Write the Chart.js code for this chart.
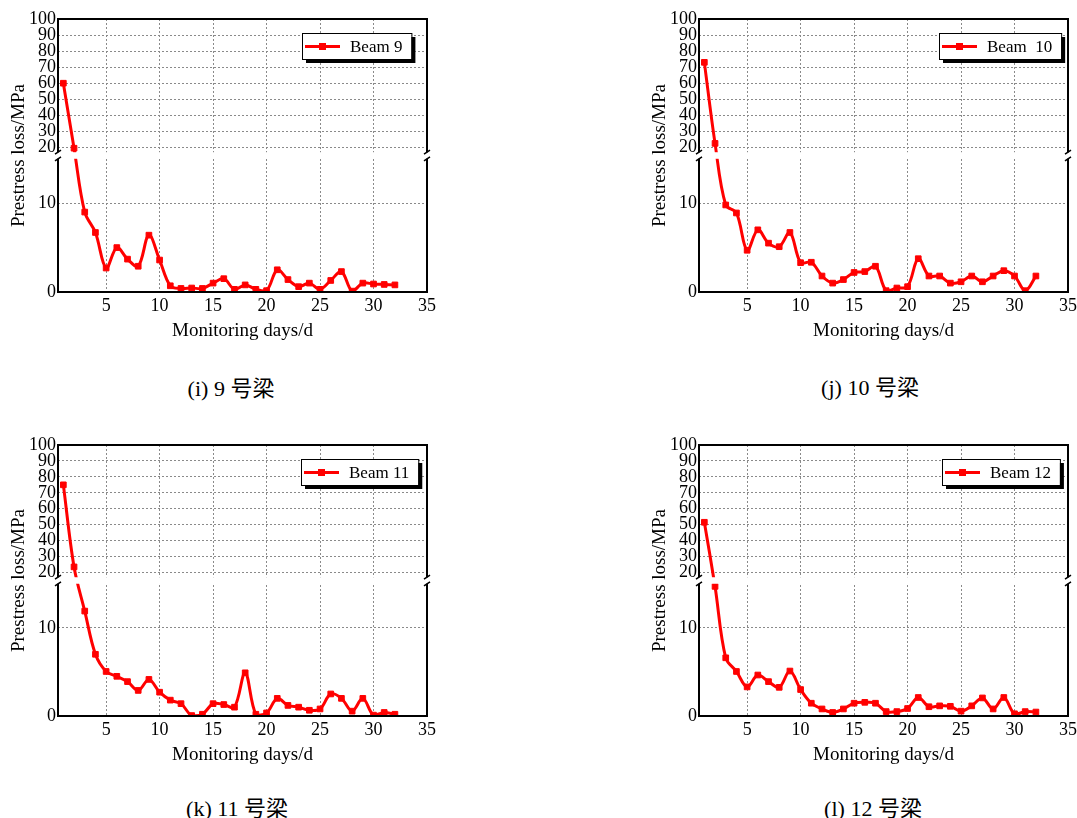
<!DOCTYPE html>
<html><head><meta charset="utf-8">
<script src="https://cdn.jsdelivr.net/npm/chart.js@4.4.0/dist/chart.umd.min.js"></script>
<style>
html,body{margin:0;padding:0;background:#fff;}
body{width:1077px;height:818px;overflow:hidden;position:relative;}
canvas{position:absolute;}
.cap{position:absolute;font-family:"Liberation Serif","Noto Sans CJK SC",serif;font-size:22px;color:#000;white-space:nowrap;transform:translate(-50%,-50%);}
</style></head><body>
<canvas id="c1" width="440" height="345" style="left:0px;top:0px"></canvas>
<canvas id="c2" width="440" height="345" style="left:641px;top:0px"></canvas>
<canvas id="c3" width="440" height="343" style="left:0px;top:426px"></canvas>
<canvas id="c4" width="440" height="343" style="left:641px;top:426px"></canvas>
<div class="cap" style="left:231px;top:386px">(i) 9 号梁</div>
<div class="cap" style="left:870px;top:385px">(j) 10 号梁</div>
<div class="cap" style="left:237px;top:806px">(k) 11 号梁</div>
<div class="cap" style="left:873px;top:806px">(l) 12 号梁</div>
<script>
const days = [1,2,3,4,5,6,7,8,9,10,11,12,13,14,15,16,17,18,19,20,21,22,23,24,25,26,27,28,29,30,31,32];
const beam9  = [60,19.5,9.0,6.7,2.7,5.0,3.7,2.9,6.4,3.6,0.7,0.4,0.45,0.4,1.0,1.5,0.3,0.8,0.3,0.15,2.5,1.4,0.6,1.0,0.3,1.3,2.3,0.1,1.0,0.9,0.85,0.8];
const beam10 = [73,22.5,9.8,8.9,4.7,7.0,5.5,5.1,6.7,3.3,3.35,1.8,1.0,1.4,2.2,2.3,2.9,0.15,0.45,0.6,3.75,1.8,1.8,1.0,1.15,1.8,1.15,1.8,2.4,1.8,0.15,1.8];
const beam11 = [75,23.5,11.9,7.0,5.05,4.5,3.9,2.9,4.15,2.7,1.8,1.4,0.05,0.2,1.4,1.3,1.0,4.9,0.2,0.35,2.0,1.2,1.0,0.65,0.8,2.5,2.0,0.55,2.0,0.1,0.4,0.2];
const beam12 = [51.5,14.7,6.6,5.05,3.3,4.65,3.9,3.25,5.1,3.0,1.45,0.8,0.4,0.8,1.45,1.55,1.45,0.5,0.5,0.85,2.1,1.05,1.15,1.1,0.55,1.15,2.05,0.8,2.1,0.25,0.5,0.45];
const seriesLabels = ['Beam 9','Beam  10','Beam 11','Beam 12'];
const xTicks = [5,10,15,20,25,30,35];
const yTicks = [0,10,20,30,40,50,60,70,80,90,100];
const xTitle = 'Monitoring days/d';
const yTitle = 'Prestress loss/MPa';

// axis break definition: lower segment 0..15, upper segment 17..100
const BRK = {lowMax:15, lowFrac:0.488, upMin:17, upFrac:0.512};

class BrokenLinear extends Chart.LinearScale {
  getPixelForValue(v) {
    let f;
    if (v <= BRK.lowMax) f = (v - this.min) / (BRK.lowMax - this.min) * BRK.lowFrac;
    else if (v >= BRK.upMin) f = BRK.upFrac + (v - BRK.upMin) / (this.max - BRK.upMin) * (1 - BRK.upFrac);
    else f = BRK.lowFrac + (v - BRK.lowMax) / (BRK.upMin - BRK.lowMax) * (BRK.upFrac - BRK.lowFrac);
    return this.getPixelForDecimal(f);
  }
  getValueForPixel(p) {
    const f = this.getDecimalForPixel(p);
    if (f <= BRK.lowFrac) return this.min + f / BRK.lowFrac * (BRK.lowMax - this.min);
    if (f >= BRK.upFrac) return BRK.upMin + (f - BRK.upFrac) / (1 - BRK.upFrac) * (this.max - BRK.upMin);
    return BRK.lowMax + (f - BRK.lowFrac) / (BRK.upFrac - BRK.lowFrac) * (BRK.upMin - BRK.lowMax);
  }
}
BrokenLinear.id = 'brokenLinear';
BrokenLinear.defaults = {};
Chart.register(BrokenLinear);

const FONT = '"Liberation Serif", "Times New Roman", serif';

const framePlugin = {
  id: 'frame',
  afterDatasetsDraw(chart) {
    const {ctx, chartArea: a} = chart;
    const y = chart.scales.y;
    const yHi = y.getPixelForValue(BRK.upMin);
    const yLo = y.getPixelForValue(BRK.lowMax);
    ctx.save();
    ctx.fillStyle = '#fff';
    ctx.fillRect(a.left - 3, yHi, a.right - a.left + 6, yLo - yHi);
    ctx.strokeStyle = '#000';
    ctx.lineWidth = 2;
    ctx.lineCap = 'butt';
    ctx.beginPath();
    ctx.moveTo(a.left - 1, a.top); ctx.lineTo(a.right + 1, a.top);
    ctx.moveTo(a.left - 1, a.bottom); ctx.lineTo(a.right + 1, a.bottom);
    [a.left, a.right].forEach(x => {
      ctx.moveTo(x, a.top); ctx.lineTo(x, yHi);
      ctx.moveTo(x, yLo); ctx.lineTo(x, a.bottom);
    });
    ctx.stroke();
    ctx.lineWidth = 1.5;
    ctx.beginPath();
    [a.left, a.right].forEach(x => {
      ctx.moveTo(x - 3, yHi + 2); ctx.lineTo(x + 3, yHi - 2);
      ctx.moveTo(x - 3, yLo + 2); ctx.lineTo(x + 3, yLo - 2);
    });
    ctx.stroke();
    ctx.restore();
  },
  afterDraw(chart) {
    const {ctx, chartArea: a} = chart;
    const opts = chart.options.plugins.frame || {};
    const ds = chart.data.datasets[0];
    ctx.save();
    ctx.font = '17px ' + FONT;
    const tw = ctx.measureText(ds.label).width;
    const x = a.left + opts.legendX, y = a.top + 14, w = 48 + tw + 9, h = 26;
    ctx.fillStyle = '#000';
    ctx.fillRect(x + 4, y + 4, w, h);
    ctx.fillStyle = '#fff';
    ctx.fillRect(x, y, w, h);
    ctx.strokeStyle = '#000';
    ctx.lineWidth = 1;
    ctx.strokeRect(x + 0.5, y + 0.5, w, h);
    const cy = y + h / 2 + 0.5;
    ctx.strokeStyle = ds.borderColor;
    ctx.lineWidth = 3;
    ctx.beginPath(); ctx.moveTo(x + 3, cy); ctx.lineTo(x + 38, cy); ctx.stroke();
    ctx.fillStyle = ds.borderColor;
    ctx.fillRect(x + 20.5 - 3.5, cy - 3.5, 7, 7);
    ctx.fillStyle = '#000';
    ctx.textBaseline = 'middle';
    ctx.textAlign = 'left';
    ctx.fillText(ds.label, x + 48, cy + 1);
    ctx.restore();
  }
};

function makeChart(id, values, label, legendX) {
  return new Chart(document.getElementById(id), {
    type: 'line',
    data: {
      labels: days,
      datasets: [{
        label: label,
        data: days.map((d, i) => ({x: d, y: values[i]})),
        borderColor: '#ff0000',
        backgroundColor: '#ff0000',
        borderWidth: 3,
        pointStyle: 'rect',
        pointRadius: 4,
        pointBorderWidth: 1,
        pointBackgroundColor: '#ff0000',
        pointBorderColor: '#ff0000',
        tension: 0.35,
        fill: false
      }]
    },
    options: {
      responsive: false,
      animation: false,
      devicePixelRatio: 1,
      layout: {padding: {left: 0, top: 19, right: 13, bottom: 0}},
      plugins: {legend: {display: false}, tooltip: {enabled: false}, frame: {legendX: legendX}},
      scales: {
        x: {
          type: 'linear', min: 0.5, max: 35,
          afterBuildTicks: s => { s.ticks = xTicks.map(v => ({value: v})); },
          afterFit: s => { s.height = 53; },
          grid: {color: '#8a8a8a', lineWidth: 1, drawTicks: false},
          border: {display: false, dash: [2, 2]},
          ticks: {color: '#000', font: {family: FONT, size: 18}, padding: 3, maxRotation: 0, autoSkip: false},
          title: {display: true, text: xTitle, color: '#000', font: {family: FONT, size: 19}, padding: {top: 0, bottom: 3}}
        },
        y: {
          type: 'brokenLinear', min: 0, max: 100,
          afterBuildTicks: s => { s.ticks = yTicks.map(v => ({value: v})); },
          afterFit: s => { s.width = 58; },
          grid: {color: '#8a8a8a', lineWidth: 1, drawTicks: false},
          border: {display: false, dash: [2, 2]},
          ticks: {color: '#000', font: {family: FONT, size: 18}, padding: 2, autoSkip: false},
          title: {display: true, text: yTitle, color: '#000', font: {family: FONT, size: 19}, padding: {top: 8, bottom: 0}}
        }
      }
    },
    plugins: [framePlugin]
  });
}

makeChart('c1', beam9, seriesLabels[0], 244);
makeChart('c2', beam10, seriesLabels[1], 240);
makeChart('c3', beam11, seriesLabels[2], 243);
makeChart('c4', beam12, seriesLabels[3], 243);
</script>
</body></html>
